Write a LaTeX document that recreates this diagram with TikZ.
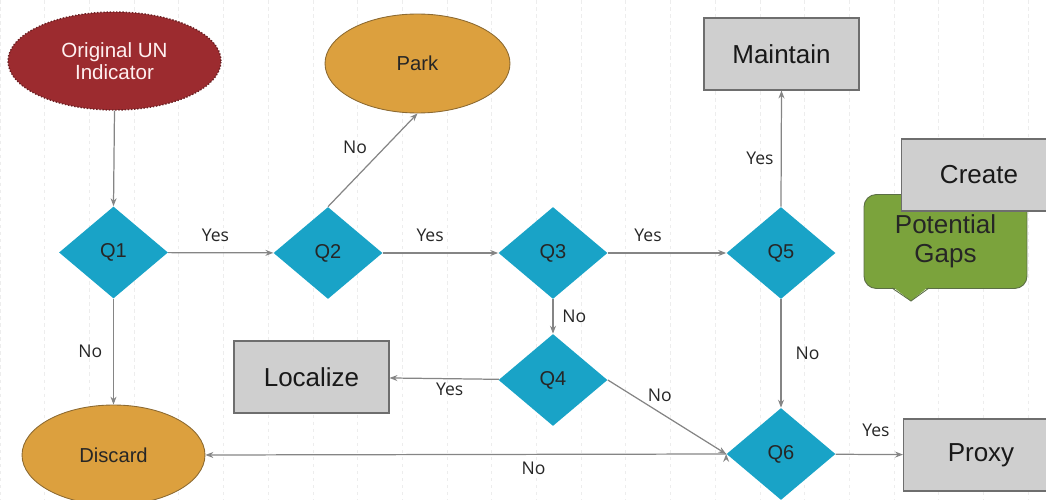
\documentclass[tikz,border=0pt]{standalone}
\usepackage{fontspec}
\setmainfont{Liberation Sans}
\newfontfamily\lblfont{Open Sans}
\usepackage{tikz}
\usetikzlibrary{arrows.meta, positioning, shapes.geometric}
\usepackage{xcolor}

\definecolor{qblue}{HTML}{19A3C7}
\definecolor{ochre}{HTML}{DCA03E}
\definecolor{ochreline}{HTML}{8C6A32}
\definecolor{wine}{HTML}{9C2B2F}
\definecolor{wineline}{HTML}{6A2023}
\definecolor{boxgray}{HTML}{CFCFCF}
\definecolor{boxline}{HTML}{6E6E6E}
\definecolor{gapgreen}{HTML}{7BA33C}
\definecolor{gapline}{HTML}{5B6E45}
\definecolor{linkgray}{HTML}{858585}
\definecolor{gridgray}{HTML}{EDEDED}

\begin{document}
\begin{tikzpicture}[x=0.02cm,y=-0.02cm,>={Stealth[length=4.5pt,width=3.4pt]}]
  \tikzset{
    question/.style={diamond, fill=qblue, inner sep=0pt,
      minimum width=2.18cm, minimum height=1.84cm,
      font=\fontsize{11.4}{13}\selectfont, text=black!85},
    oval/.style={ellipse, fill=ochre, draw=ochreline, line width=0.5pt,
      font=\fontsize{11.5}{13}\selectfont, text=black!85},
    action/.style={rectangle, fill=boxgray, draw=boxline, line width=0.6pt,
      minimum width=3.1cm, minimum height=1.44cm,
      font=\fontsize{14.8}{17}\selectfont, text=black!90},
    link/.style={->, draw=linkgray, line width=0.7pt},
    lbl/.style={font=\lblfont\fontsize{10}{12}\selectfont, text=black!85, inner sep=2pt},
    gridline/.style={draw=gridgray, dash pattern=on 2pt off 2pt, line width=0.35pt}
  }

  \clip (0,0) rectangle (1046,500);

  % faint page grid
  \foreach \i in {0,...,23}
    \draw[gridline] (\i*44.7,0) -- (\i*44.7,500);

  % start
  \node[ellipse, fill=wine, draw=wineline, densely dotted, line width=0.8pt,
        minimum width=4.26cm, minimum height=1.96cm, align=center,
        font=\fontsize{11.7}{12.5}\selectfont, text=red!6]
        (orig) at (114.5,61) {Original UN\\Indicator};

  % end points
  \node[oval, minimum width=3.7cm, minimum height=1.98cm] (park)    at (417.5,63.5) {Park};
  \node[oval, minimum width=3.66cm, minimum height=2.0cm] (discard) at (113.5,455)  {Discard};

  % questions
  \node[question] (q1) at (113.5,252.5) {Q1};
  \node[question] (q2) at (328,253)     {Q2};
  \node[question] (q3) at (553,253)     {Q3};
  \node[question] (q5) at (781,253)     {Q5};
  \node[question] (q4) at (553,380)     {Q4};
  \node[question] (q6) at (781,454)     {Q6};

  % outcomes
  \node[action] (maintain) at (781.5,54) {Maintain};
  \node[action] (localize) at (311.5,377) {Localize};
  \node[action] (proxy)    at (981,455)  {Proxy};

  % note
  \node[rectangle, rounded corners=7pt, fill=gapgreen, draw=gapline, line width=0.5pt,
        minimum width=3.26cm, minimum height=1.88cm, align=center,
        font=\fontsize{14.8}{16.5}\selectfont, text=black!85]
        (gaps) at (945.5,241.5) {Potential\\Gaps};
  \coordinate (tipl) at (892,288);
  \coordinate (tipr) at (929,288);
  \coordinate (tip)  at (911,301);
  \fill[gapgreen] ([yshift=1pt]tipl) -- (tip) -- ([yshift=1pt]tipr) -- cycle;
  \draw[gapline, line width=0.5pt] (tipl) -- (tip) -- (tipr);
  \node[action] (create) at (979,175) {Create};

  \path[link]
  (orig.south) edge (q1.north)
  (q1) edge node[lbl, above=4pt, pos=0.45] {Yes} (q2)
  (q2) edge node[lbl, above=4pt, pos=0.41] {Yes} (q3)
  (q3) edge node[lbl, above=4pt, pos=0.34] {Yes} (q5)
  (q2.north) edge node[lbl, left=8pt, pos=0.64] {No} (park.south)
  (q5.north) edge node[lbl, left=2pt, pos=0.42] {Yes} (maintain.south)
  (q3) edge node[lbl, right=3pt] {No} (q4)
  (q4) edge node[lbl, below=0pt, pos=0.45] {Yes} (localize)
  (q4.east) edge node[lbl, above=4pt, pos=0.44] {No} (q6.west)
  (q5) edge node[lbl, right=6pt] {No} (q6)
  (q6.west) edge node[lbl, below=2pt, pos=0.37] {No} (discard.east)
  (q6) edge node[lbl, above=8pt, pos=0.6] {Yes} (proxy)
  (q1) edge node[lbl, left=4pt] {No} (discard)
  ;
\end{tikzpicture}
\end{document}
